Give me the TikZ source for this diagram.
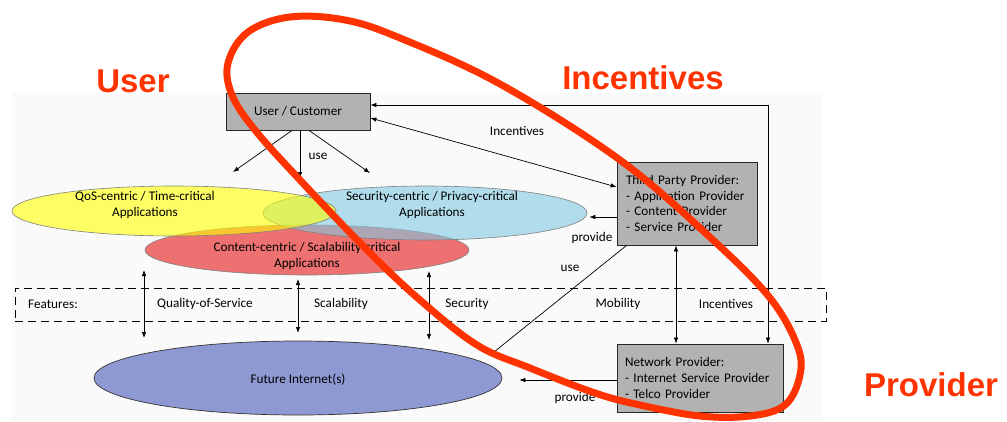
\documentclass[tikz,border=0pt]{standalone}
\usepackage{fontspec}
\setmainfont{Carlito}
\newfontfamily\bigfont{Liberation Sans}
\usetikzlibrary{shapes.geometric,arrows.meta,calc}
\definecolor{hl}{RGB}{255,51,0}
\definecolor{boxgray}{RGB}{178,178,178}
\definecolor{ylw}{RGB}{255,255,0}
\definecolor{blu}{RGB}{127,200,225}
\definecolor{rd}{RGB}{230,22,22}
\definecolor{fic}{RGB}{142,152,210}
\definecolor{bgc}{RGB}{250,250,250}
\begin{document}
\begin{tikzpicture}[x=1pt,y=-1pt,
  font=\fontsize{13.2}{15.6}\selectfont,
  box/.style={draw=black!85, fill=boxgray, line width=0.8pt, inner sep=0, align=left},
  ell/.style={ellipse, draw=black!50, line width=0.6pt, inner sep=0, fill opacity=0.6},
  arr/.style={-{Latex[length=6pt,width=4.5pt]}, line width=0.7pt},
  dbl/.style={{Latex[length=6pt,width=4.5pt]}-{Latex[length=6pt,width=4.5pt]}, line width=0.7pt},
  lbl/.style={inner sep=0, align=center},
  big/.style={font=\bigfont\bfseries\fontsize{33}{36}\selectfont, text=hl, inner sep=0, anchor=base},
  ring/.style={draw=hl, line width=7pt}]
\useasboundingbox (0,0) rectangle (1007,421);
\fill[bgc] (12,93) rectangle (823,421);

% title labels
\node[big] (tUser) at (133,92) {User};
\node[big] (tInc) at (643,89) {Incentives};
\node[big] (tProv) at (931,396) {Provider};

% ellipses
\node[ell, fill=rd, minimum width=324, minimum height=50] (red) at (307,250) {};
\node[ell, fill=blu, minimum width=324, minimum height=54] (blue) at (425,213) {};
\node[ell, fill=ylw, minimum width=324, minimum height=50] (yel) at (174,211) {};
\node[lbl] (tyel) at (145,205) {QoS-centric / Time-critical\\Applications};
\node[lbl] (tblue) at (432,205) {Security-centric / Privacy-critical\\Applications};
\node[lbl] (tred) at (307,256) {Content-centric / Scalability-critical\\Applications};

\node[ellipse, draw=black!80, line width=0.7pt, fill=fic, minimum width=408, minimum height=74, inner sep=0] (fi) at (298,378) {};
\node[lbl] (tfi) at (298,380) {Future Internet(s)};

% boxes
\node[box, minimum width=144, minimum height=37, align=center] (user) at (298,111.5) {User / Customer};
\node[box, minimum width=140, minimum height=83, text width=122] (tpp) at (687,203.5)
  {Third Party Provider:\\- Application Provider\\- Content Provider\\- Service Provider};
\node[box, minimum width=166, minimum height=68, text width=150] (np) at (700,378)
  {Network Provider:\\- Internet Service Provider\\- Telco Provider};

% features band
\node[draw, dash pattern=on 8pt off 5pt, line width=0.7pt, minimum width=811, minimum height=33, inner sep=0] (feat) at (420.5,304.5) {};
\node[lbl] (f0) at (53,304) {Features:};
\node[lbl] (f1) at (205,304) {Quality-of-Service};
\node[lbl] (f2) at (341,304) {Scalability};
\node[lbl] (f3) at (467,304) {Security};
\node[lbl] (f4) at (618,304) {Mobility};
\node[lbl] (f5) at (726,304) {Incentives};

% coordinates for free ends
\coordinate (u1) at (233,172);
\coordinate (u2) at (300,178);
\coordinate (u3) at (370,173);
\coordinate (a1t) at (144,270); \coordinate (a1b) at (144,338);
\coordinate (a2t) at (298,279); \coordinate (a2b) at (298,333);
\coordinate (a3t) at (429,271); \coordinate (a3b) at (429,340);
\coordinate (fiu) at (489,356);

% connectors
\draw[arr] ($(user.south)+(-6,0)$) -- (u1);
\draw[arr] ($(user.south)+(2,0)$) -- (u2);
\draw[arr] ($(user.south)+(11,0)$) -- (u3);
\node[lbl] (luse) at (318,156) {use};

\draw[dbl] ($(user.east)+(0,6.5)$) -- ($(tpp.west)+(0,-16.5)$);
\node[lbl] (linc) at (517,131) {Incentives};

\draw[dbl] ($(user.east)+(0,-6.5)$) -| ($(np.north)+(68,0)$);
\draw[dbl] ($(tpp.south)+(-11,0)$) -- ($(np.north)+(-24,0)$);

\draw[arr] ($(tpp.west)+(0,13.5)$) -- ($(blue.east)+(2,4)$);
\node[lbl] (lprov1) at (592,238) {provide};
\draw[arr] ($(tpp.south west)+(10,0)$) -- (fiu);
\node[lbl] (luse2) at (570,268) {use};

\draw[arr] ($(np.west)+(0,2)$) -- ($(fi.east)+(17,2)$);
\node[lbl] (lprov2) at (575,398) {provide};

\draw[dbl] (a1t) -- (a1b);
\draw[dbl] (a2t) -- (a2b);
\draw[dbl] (a3t) -- (a3b);

% red highlight ring
\draw[ring] plot[smooth cycle, tension=0.6] coordinates {
 (228,63) (248,32) (290,17) (345,20) (400,38) (500,84) (620,160) (713,240)
 (770,298) (797,345) (800,375) (785,405) (750,416) (700,416) (640,405)
 (595,393) (530,368) (477,345) (420,300) (367,250) (300,180) (255,130) (232,95)};
\end{tikzpicture}
\end{document}
